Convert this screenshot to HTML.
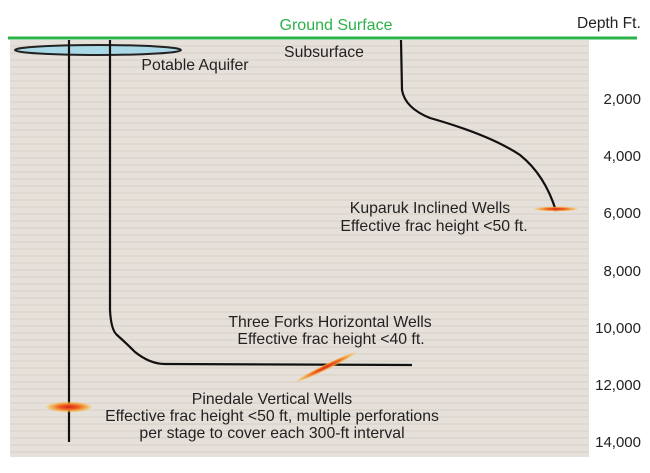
<!DOCTYPE html>
<html><head><meta charset="utf-8"><style>
body{margin:0;background:#fff;}
svg text{font-family:"Liberation Sans",sans-serif;}
</style></head><body>
<svg width="650" height="468" viewBox="0 0 650 468" xmlns="http://www.w3.org/2000/svg">
<defs>
<pattern id="stripes" width="8" height="7" patternUnits="userSpaceOnUse">
<rect width="8" height="7" fill="#e6e0da"/>
<rect y="3" width="8" height="2" fill="#dfd8d1"/>
</pattern>
<radialGradient id="frac"><stop offset="0" stop-color="#d8201a"/><stop offset="0.45" stop-color="#f06a20"/><stop offset="0.8" stop-color="#f5b040" stop-opacity="0.7"/><stop offset="1" stop-color="#f5c040" stop-opacity="0"/></radialGradient>
</defs>
<rect x="10" y="40" width="579" height="417" fill="url(#stripes)"/>
<line x1="8" y1="38" x2="637" y2="38" stroke="#2bb34a" stroke-width="3"/>
<text x="336" y="30" font-size="16" fill="#2bb34a" text-anchor="middle">Ground Surface</text>
<text x="577" y="28" font-size="15.5" fill="#222">Depth Ft.</text>
<g font-size="15" fill="#222" text-anchor="end">
<text x="641" y="104">2,000</text><text x="641" y="161">4,000</text><text x="641" y="218">6,000</text>
<text x="641" y="276">8,000</text><text x="641" y="333">10,000</text><text x="641" y="390">12,000</text><text x="641" y="447">14,000</text>
</g>
<ellipse cx="98" cy="50" rx="83" ry="5" fill="#a9d9e6" stroke="#222" stroke-width="2"/>
<g stroke="#111" stroke-width="2.2" fill="none">
<line x1="69" y1="40" x2="69" y2="442"/>
<path d="M110 40 L110 310 Q111 330 117 335 Q125 342 135 352 Q150 364 165 364 L412 365"/>
<path d="M401 40 L402 90 Q405 108 430 118 Q490 135 520 155 Q545 175 556 211"/>
</g>
<ellipse cx="69" cy="407" rx="24" ry="5.5" fill="url(#frac)"/>
<ellipse cx="556" cy="209" rx="23" ry="2.5" fill="url(#frac)"/>
<ellipse cx="326" cy="367" rx="35" ry="3" fill="url(#frac)" transform="rotate(-26 326 367)"/>
<g font-size="15.8" fill="#222" text-anchor="middle">
<text x="324" y="57">Subsurface</text>
<text x="195" y="70">Potable Aquifer</text>
<text x="430" y="213">Kuparuk Inclined Wells</text>
<text x="434" y="231">Effective frac height &lt;50 ft.</text>
<text x="330" y="327">Three Forks Horizontal Wells</text>
<text x="331" y="344">Effective frac height &lt;40 ft.</text>
<text x="272" y="404">Pinedale Vertical Wells</text>
<text x="272" y="421">Effective frac height &lt;50 ft, multiple perforations</text>
<text x="272" y="438">per stage to cover each 300-ft interval</text>
</g>
</svg>
</body></html>
